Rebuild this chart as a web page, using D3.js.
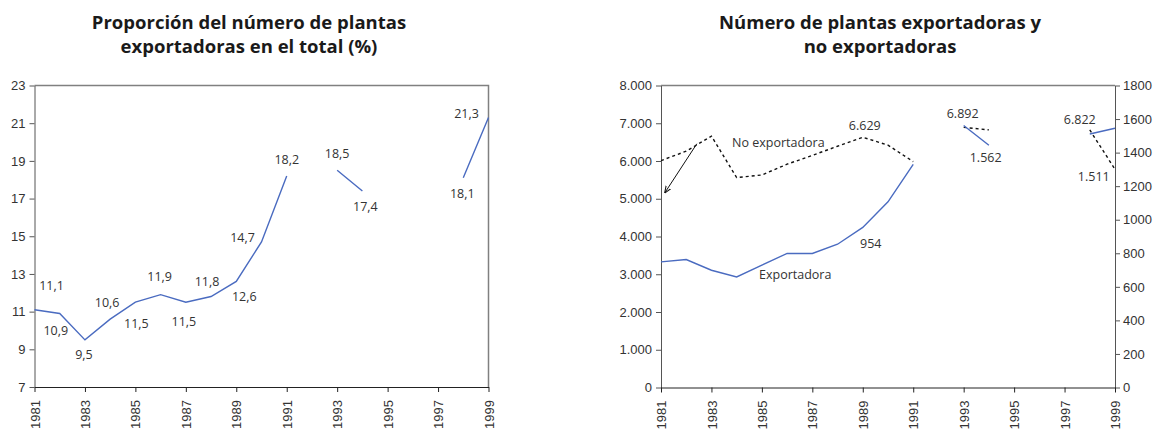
<!DOCTYPE html>
<html>
<head>
<meta charset="utf-8">
<script src="https://cdn.jsdelivr.net/npm/d3@7"></script>
<style>
  body { margin: 0; background: #fff; }
  svg { display: block; font-family: "Open Sans", sans-serif; }
  .title { font-weight: bold; font-size: 18.5px; fill: #1a1a1a; }
  .tick text { font-size: 13px; fill: #333; }
  .lbl { font-size: 12.5px; fill: #333; }
</style>
</head>
<body>
<svg id="chart" width="1155" height="430"></svg>
<script>
// data
const years = [1981, 1982, 1983, 1984, 1985, 1986, 1987, 1988, 1989, 1990,
               1991, 1992, 1993, 1994, 1995, 1996, 1997, 1998, 1999];
const yearTicks = [1981, 1983, 1985, 1987, 1989, 1991, 1993, 1995, 1997, 1999];

// % of exporting plants (null = no data)
const share = [11.1, 10.9, 9.5, 10.6, 11.5, 11.9, 11.5, 11.8, 12.6, 14.7,
               18.2, null, 18.5, 17.4, null, null, null, 18.1, 21.3];
const shareTicks = [7, 9, 11, 13, 15, 17, 19, 21, 23];

// number of plants
const noExport = [6010, 6260, 6660, 5560, 5630, 5915, 6150, 6390, 6629, 6420,
                  5983, null, 6892, 6824, null, null, null, 6822, 5781];
const exporters = [749, 763, 699, 659, 729, 799, 799, 854, 954, 1107,
                   1330, null, 1562, 1444, null, null, null, 1511, 1545];
const leftTicks = [0, 1000, 2000, 3000, 4000, 5000, 6000, 7000, 8000];
const rightTicks = [0, 200, 400, 600, 800, 1000, 1200, 1400, 1600, 1800];

const locale = d3.formatLocale({decimal: ",", thousands: ".", grouping: [3], currency: ["", ""]});
const fmtDec = locale.format(".1f");
const fmtThou = locale.format(",d");

const svg = d3.select("#chart");
const blue = "#4a6bc0";

function xAxis(g, x, y0) {
    g.attr("transform", "translate(0," + y0 + ")")
        .call(d3.axisBottom(x).tickValues(yearTicks).tickFormat(d3.format("d")).tickSize(5).tickSizeOuter(0));
    g.select(".domain").attr("stroke", "#222");
    g.selectAll(".tick line").attr("stroke", "#222");
    g.selectAll(".tick text")
        .attr("transform", "rotate(-90)")
        .attr("x", -13)
        .attr("y", 0)
        .attr("dy", "0.35em")
        .attr("text-anchor", "end");
}

function styleY(g) {
    g.select(".domain").attr("stroke", "#555");
    g.selectAll(".tick line").attr("stroke", "#555");
}

// ---- left chart ----
const L = {left: 34.5, right: 488.5, top: 85.5, bottom: 387};
const xL = d3.scaleLinear().domain([1981, 1999]).range([L.left, L.right]);
const yL = d3.scaleLinear().domain([7, 23]).range([L.bottom, L.top]);

const left = svg.append("g");
left.append("text").attr("class", "title").attr("x", 249).attr("y", 29)
    .attr("text-anchor", "middle").text("Proporción del número de plantas");
left.append("text").attr("class", "title").attr("x", 249).attr("y", 53)
    .attr("text-anchor", "middle").text("exportadoras en el total (%)");

// frame top / right
left.append("path")
    .attr("d", `M${L.left},${L.top}H${L.right}V${L.bottom}`)
    .attr("fill", "none").attr("stroke", "#808080").attr("stroke-width", 1.5);

left.append("g").attr("transform", `translate(${L.left},0)`)
    .call(d3.axisLeft(yL).tickValues(shareTicks).tickSize(5).tickPadding(4).tickSizeOuter(0))
    .call(styleY);
left.append("g").call(xAxis, xL, L.bottom);

const lineL = d3.line()
    .defined(d => d[1] != null)
    .x(d => xL(d[0])).y(d => yL(d[1]));
left.append("path")
    .datum(years.map((yr, i) => [yr, share[i]]))
    .attr("d", lineL)
    .attr("fill", "none").attr("stroke", blue).attr("stroke-width", 1.4);

// label offsets (dx, dy from the point)
const shareOffset = {
    1981: [17, -24], 1982: [-4, 17], 1983: [-1, 15], 1984: [-3, -17], 1985: [1, 21],
    1986: [-1, -18], 1987: [-2, 19], 1988: [-4, -15], 1989: [8, 15], 1990: [-19, -4],
    1991: [0, -16], 1993: [0, -17], 1994: [3, 16], 1998: [-1, 16], 1999: [-22, -4]
};
years.forEach((yr, i) => {
    if (share[i] == null) return;
    const o = shareOffset[yr];
    left.append("text").attr("class", "lbl")
        .attr("x", xL(yr) + o[0]).attr("y", yL(share[i]) + o[1])
        .attr("dy", "0.35em").attr("text-anchor", "middle")
        .text(fmtDec(share[i]));
});

// ---- right chart ----
const R = {left: 661, right: 1115, top: 85.5, bottom: 387.5};
const xR = d3.scaleLinear().domain([1981, 1999]).range([R.left, R.right]);
const yR1 = d3.scaleLinear().domain([0, 8000]).range([R.bottom, R.top]);
const yR2 = d3.scaleLinear().domain([0, 1800]).range([R.bottom, R.top]);

const right = svg.append("g");
right.append("text").attr("class", "title").attr("x", 880).attr("y", 29)
    .attr("text-anchor", "middle").text("Número de plantas exportadoras y");
right.append("text").attr("class", "title").attr("x", 880).attr("y", 53)
    .attr("text-anchor", "middle").text("no exportadoras");

right.append("line")
    .attr("x1", R.left).attr("x2", R.right).attr("y1", R.top).attr("y2", R.top)
    .attr("stroke", "#808080").attr("stroke-width", 1.5);

right.append("g").attr("transform", `translate(${R.left},0)`)
    .call(d3.axisLeft(yR1).tickValues(leftTicks).tickFormat(fmtThou).tickSize(5).tickPadding(4).tickSizeOuter(0))
    .call(styleY);
right.append("g").attr("transform", `translate(${R.right},0)`)
    .call(d3.axisRight(yR2).tickValues(rightTicks).tickFormat(d3.format("d")).tickSize(5).tickPadding(3).tickSizeOuter(0))
    .call(styleY);
right.append("g").call(xAxis, xR, R.bottom);

const lineNo = d3.line().defined(d => d[1] != null).x(d => xR(d[0])).y(d => yR1(d[1]));
const lineEx = d3.line().defined(d => d[1] != null).x(d => xR(d[0])).y(d => yR2(d[1]));

right.append("path")
    .datum(years.map((yr, i) => [yr, noExport[i]]))
    .attr("d", lineNo)
    .attr("fill", "none").attr("stroke", "#111").attr("stroke-width", 1.4)
    .attr("stroke-dasharray", "3,3");
right.append("path")
    .datum(years.map((yr, i) => [yr, exporters[i]]))
    .attr("d", lineEx)
    .attr("fill", "none").attr("stroke", blue).attr("stroke-width", 1.4);

// value labels
const noLabels = {1989: [2, -12], 1993: [-1, -14], 1998: [-10, -10]};
const exLabels = {1989: [8, 16], 1993: [22, 32], 1998: [4, 43]};
years.forEach((yr, i) => {
    if (noLabels[yr]) {
        right.append("text").attr("class", "lbl")
            .attr("x", xR(yr) + noLabels[yr][0]).attr("y", yR1(noExport[i]) + noLabels[yr][1])
            .attr("dy", "0.35em").attr("text-anchor", "middle").text(fmtThou(noExport[i]));
    }
    if (exLabels[yr]) {
        right.append("text").attr("class", "lbl")
            .attr("x", xR(yr) + exLabels[yr][0]).attr("y", yR2(exporters[i]) + exLabels[yr][1])
            .attr("dy", "0.35em").attr("text-anchor", "middle").text(fmtThou(exporters[i]));
    }
});

// series names
right.append("text").attr("class", "lbl").attr("x", 732).attr("y", 143)
    .attr("dy", "0.35em").text("No exportadora");
right.append("text").attr("class", "lbl").attr("x", 759).attr("y", 275)
    .attr("dy", "0.35em").text("Exportadora");

// arrow
svg.append("defs").append("marker")
    .attr("id", "arr").attr("viewBox", "0 0 10 10").attr("refX", 9).attr("refY", 5)
    .attr("markerWidth", 7).attr("markerHeight", 7).attr("orient", "auto")
    .append("path").attr("d", "M0,1L10,5L0,9").attr("fill", "none").attr("stroke", "#111").attr("stroke-width", 1.5);
right.append("line")
    .attr("x1", xR(1982.42)).attr("y1", yR1(6456))
    .attr("x2", xR(1981.16)).attr("y2", yR1(5166))
    .attr("stroke", "#111").attr("stroke-width", 1)
    .attr("marker-end", "url(#arr)");
</script>
</body>
</html>
